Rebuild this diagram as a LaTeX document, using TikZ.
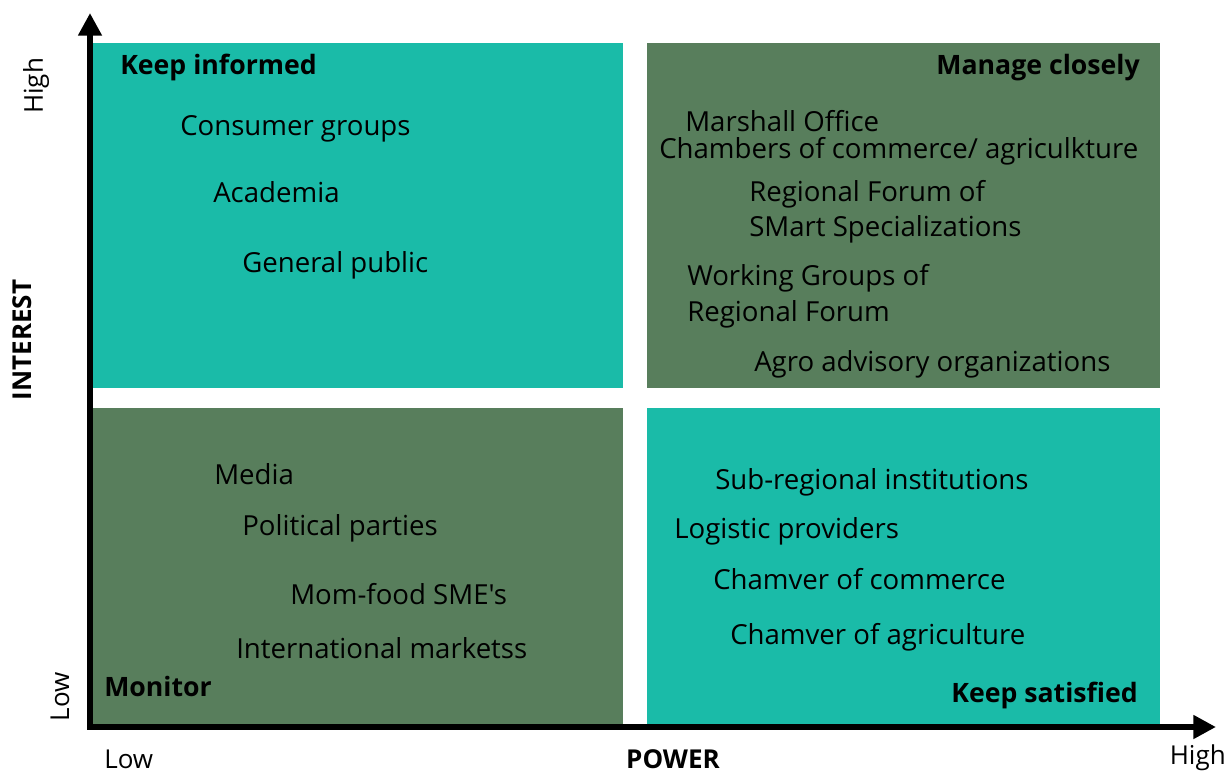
\documentclass[tikz,border=0pt]{standalone}
\usepackage{fontspec}
\setmainfont{Open Sans}[Ligatures=TeXOff]
\usetikzlibrary{arrows.meta}
\definecolor{teal1}{RGB}{26,187,168}
\definecolor{green1}{RGB}{88,126,92}
\begin{document}
\begin{tikzpicture}[x=0.75pt,y=-0.75pt,
  item/.style={inner sep=0pt,font=\fontsize{20.7}{24}\selectfont,text=black},
  head/.style={inner sep=0pt,font=\fontsize{20}{24}\selectfont\bfseries,text=black},
  axislbl/.style={inner sep=0pt,font=\fontsize{19.5}{23}\selectfont,text=black},
  axisbold/.style={inner sep=0pt,font=\fontsize{19.5}{23}\selectfont\bfseries,text=black},
  axis/.style={line width=4.5pt,-{Triangle[length=17pt,width=17pt]}}]
\useasboundingbox (0,0) rectangle (1229,774);
% quadrants
\fill[teal1] (93,43) rectangle (623,388);
\fill[green1] (647,43) rectangle (1160,388);
\fill[green1] (93,408) rectangle (623,725);
\fill[teal1] (647,408) rectangle (1160,725);
% axes
\coordinate (origin) at (90,727);
\coordinate (ytip) at (90,13);
\coordinate (xtip) at (1216,727);
\coordinate (xstart) at (87,727);
\draw[axis] (origin) -- (ytip);
\draw[axis] (xstart) -- (xtip);
% axis labels
\node[axislbl,rotate=90] (yhigh) at (36,86) {High};
\node[axisbold,rotate=90] (interest) at (22,340) {INTEREST};
\node[axislbl,rotate=90] (ylow) at (60,697) {Low};
\node[axislbl,anchor=west] (xlow) at (104,759) {Low};
\node[axisbold] (power) at (673,759) {POWER};
\node[axislbl,anchor=east] (xhigh) at (1226,758) {High};
% top-left
\node[head,anchor=west] (ki) at (120,68) {Keep informed};
\node[item,anchor=west] (a1) at (180,129) {Consumer groups};
\node[item,anchor=west] (a2) at (213,192) {Academia};
\node[item,anchor=west] (a3) at (242,265) {General public};
% top-right
\node[head,anchor=east] (mc) at (1140,68) {Manage closely};
\node[item,anchor=west] (b1) at (685,121) {Marshall Office};
\node[item,anchor=west] (b2) at (659,151) {Chambers of commerce/ agriculkture};
\node[item,anchor=west] (b3) at (749,194) {Regional Forum of};
\node[item,anchor=west] (b4) at (749,229) {SMart Specializations};
\node[item,anchor=west] (b5) at (687,278) {Working Groups of};
\node[item,anchor=west] (b6) at (687,314) {Regional Forum};
\node[item,anchor=west] (b7) at (754,364) {Agro advisory organizations};
% bottom-left
\node[item,anchor=west] (c1) at (214,474) {Media};
\node[item,anchor=west] (c2) at (242,528) {Political parties};
\node[item,anchor=west] (c3) at (290,594) {Mom-food SME's};
\node[item,anchor=west] (c4) at (236,648) {International marketss};
\node[head,anchor=west] (mon) at (104,686) {Monitor};
% bottom-right
\node[item,anchor=west] (d1) at (715,482) {Sub-regional institutions};
\node[item,anchor=west] (d2) at (674,531) {Logistic providers};
\node[item,anchor=west] (d3) at (713,579) {Chamver of commerce};
\node[item,anchor=west] (d4) at (730,637) {Chamver of agriculture};
\node[head,anchor=east] (ks) at (1138,695) {Keep satisfied};
\end{tikzpicture}
\end{document}
